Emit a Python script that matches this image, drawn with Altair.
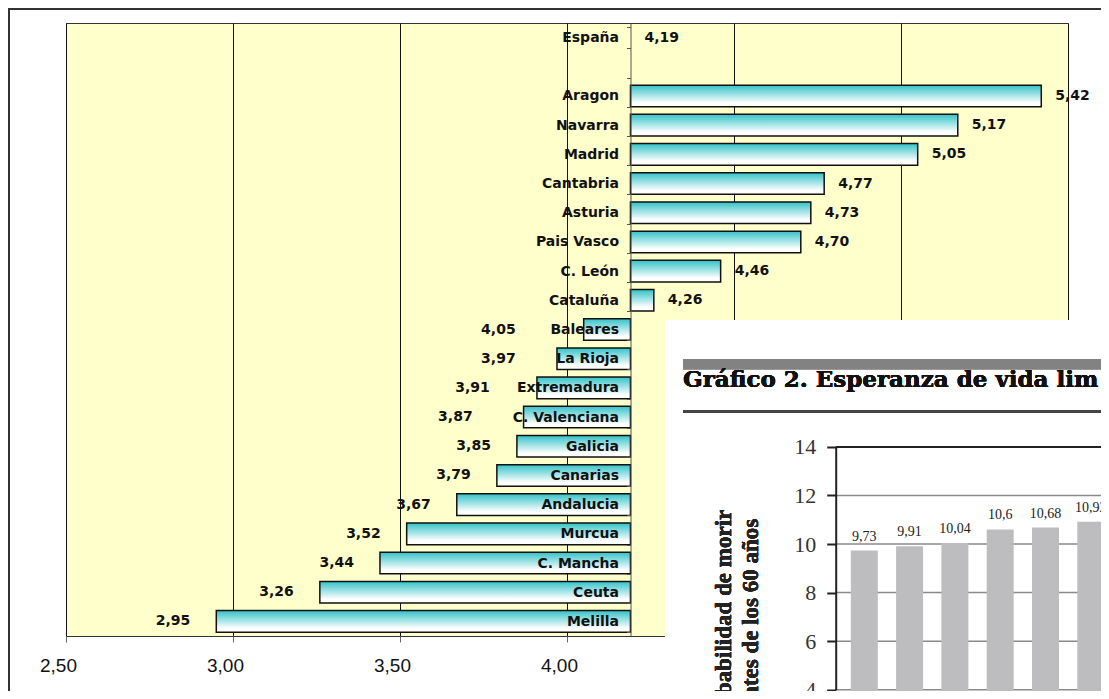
import altair as alt
import pandas as pd

# ---------------- data (main chart) ----------------
regions = ["España", "Aragon", "Navarra", "Madrid", "Cantabria", "Asturia",
           "Pais Vasco", "C. León", "Cataluña", "Baleares", "La Rioja",
           "Extremadura", "C. Valenciana", "Galicia", "Canarias", "Andalucia",
           "Murcua", "C. Mancha", "Ceuta", "Melilla"]
values = [4.19, 5.42, 5.17, 5.05, 4.77, 4.73, 4.70, 4.46, 4.26, 4.05, 3.97,
          3.91, 3.87, 3.85, 3.79, 3.67, 3.52, 3.44, 3.26, 2.95]
baseline = 4.19
gap_row = " "
row_order = [regions[0], gap_row] + regions[1:]
x_ticks = [2.5, 3.0, 3.5, 4.0, 4.5, 5.0, 5.5]

# ---------------- data (overlapping inset picture) ----------------
inset_values = [9.73, 9.91, 10.04, 10.6, 10.68, 10.92]
inset_index = [0, 1, 2, 3, 4, 5]
inset_y_ticks = [4, 6, 8, 10, 12, 14]
inset_title = "Gráfico 2. Esperanza de vida lim"
inset_ytitle = ["Probabilidad de morir", "antes de los 60 años"]

main_df = pd.DataFrame({"name": regions, "value": values})
main_df["base"] = baseline

inset_df = pd.DataFrame({"i": inset_index, "v": inset_values})
inset_df["zero"] = 0
grid_df = pd.DataFrame({"v": inset_y_ticks})

# ---------------- main chart ----------------
gradient = alt.Gradient(
    gradient="linear",
    stops=[alt.GradientStop(color="#33c2c8", offset=0),
           alt.GradientStop(color="#ffffff", offset=0.82)],
    x1=0, x2=0, y1=0, y2=1,
)

x_scale = alt.Scale(domain=[2.5, 5.5], nice=False, zero=False)
y_scale = alt.Scale(domain=row_order, paddingInner=0.26, paddingOuter=0.13)

x_axis = alt.Axis(values=x_ticks, title=None, grid=True, gridColor="#111",
                  gridWidth=1, domain=False, tickSize=6, tickColor="#666",
                  labelExpr="replace(format(datum.value, '.2f'), '.', ',')",
                  labelFont="Liberation Sans", labelFontSize=19,
                  labelColor="#111", labelPadding=14, labelOffset=-8,
                  labelFlush=False)
x_enc = alt.X("value:Q", scale=x_scale, axis=x_axis)
y_enc = alt.Y(
    "name:N", scale=y_scale,
    axis=alt.Axis(orient="left", offset=-564.5, title=None, grid=False,
                  domainColor="#555", domainWidth=1, tickBand="extent",
                  tickSize=4, tickColor="#555", labelFont="DejaVu Sans",
                  labelFontWeight="bold", labelFontSize=14, labelColor="#111",
                  labelPadding=8, zindex=1),
)

bars = alt.Chart(main_df).transform_filter(
    "datum.value != datum.base"
).mark_bar(fill=gradient, stroke="#111", strokeWidth=1.5).encode(
    x=x_enc, x2="base:Q", y=y_enc
)

label_expr = "replace(format(datum.value, '.2f'), '.', ',')"
label_style = dict(font="DejaVu Sans", fontWeight="bold", fontSize=14,
                   color="#111", baseline="middle")

pos_labels = alt.Chart(main_df).transform_filter(
    "datum.value >= datum.base"
).transform_calculate(
    lab=label_expr
).mark_text(align="left", dx=14, **label_style).encode(
    x=x_enc, y=y_enc, text="lab:N"
)

neg_labels = alt.Chart(main_df).transform_filter(
    "datum.value < datum.base"
).transform_calculate(
    lab=label_expr,
    anchor="min(datum.value, datum.base - (20 + 8.6 * length(datum.name)) / 334)",
).mark_text(align="right", dx=-26, **label_style).encode(
    x=alt.X("anchor:Q", scale=x_scale, axis=x_axis), y=y_enc, text="lab:N"
)

frame_top = alt.Chart(main_df).mark_rule(color="#333", strokeWidth=1.5).encode(
    x=alt.value(-57), x2=alt.value(1100), y=alt.value(-14.5)
)
frame_left = alt.Chart(main_df).mark_rule(color="#333", strokeWidth=1.5).encode(
    x=alt.value(-57), y=alt.value(-14.5), y2=alt.value(700)
)

main = alt.layer(bars, pos_labels, neg_labels, frame_top, frame_left)

# ---------------- inset (pasted picture of another chart) ----------------
ix_scale = alt.Scale(domain=[0, 5], range=[793.3, 1029.8], nice=False, zero=False)
iy_scale = alt.Scale(domain=[4, 14], range=[666.7, 423.9], nice=False, zero=False)
iy_axis = alt.Axis(orient="left", offset=-769.7, values=inset_y_ticks,
                   title=None, grid=False, domainColor="#222", domainWidth=2,
                   tickColor="#222", tickWidth=2, tickSize=9,
                   labelFont="Liberation Serif", labelFontSize=22,
                   labelColor="#333", labelPadding=11, zindex=2)
iy_enc = alt.Y("v:Q", scale=iy_scale, axis=iy_axis)
ix_enc = alt.X("i:Q", scale=ix_scale, axis=None)

panel = alt.Chart(inset_df).mark_rect(fill="white").encode(
    x=alt.value(599), x2=alt.value(1100), y=alt.value(297), y2=alt.value(700)
)
band = alt.Chart(inset_df).mark_rect(fill="#828282").encode(
    x=alt.value(617), x2=alt.value(1100), y=alt.value(336), y2=alt.value(346.3)
)
title = alt.Chart(inset_df).mark_text(
    text=inset_title, align="left", baseline="alphabetic", font="DejaVu Serif",
    fontWeight="bold", fontSize=23, color="#111"
).encode(x=alt.value(617), y=alt.value(363.7))
underline = alt.Chart(inset_df).mark_rule(color="#444", strokeWidth=2.5).encode(
    x=alt.value(617), x2=alt.value(1100), y=alt.value(388.5)
)
grid = alt.Chart(grid_df).transform_filter("datum.v < 14").mark_rule(
    color="#8a8a8a", strokeWidth=1.5
).encode(x=alt.value(769.7), x2=alt.value(1100), y=iy_enc)
top_line = alt.Chart(grid_df).transform_filter("datum.v == 14").mark_rule(
    color="#222", strokeWidth=2
).encode(x=alt.value(769.7), x2=alt.value(1100), y=iy_enc)
ibars = alt.Chart(inset_df).mark_bar(size=27, fill="#bdbdbf").encode(
    x=ix_enc, y=iy_enc, y2="zero:Q"
)
ilabels = alt.Chart(inset_df).transform_calculate(
    lab="replace('' + datum.v, '.', ',')"
).mark_text(baseline="alphabetic", dy=-10, font="Liberation Serif",
            fontSize=14, color="#222").encode(x=ix_enc, y=iy_enc, text="lab:N")
ytitle1 = alt.Chart(inset_df).mark_text(
    text=inset_ytitle[0], angle=270, align="right", baseline="middle",
    font="Liberation Serif", fontWeight="bold", fontSize=23, color="#222"
).encode(x=alt.value(658), y=alt.value(486.7))
ytitle2 = alt.Chart(inset_df).mark_text(
    text=inset_ytitle[1], angle=270, align="right", baseline="middle",
    font="Liberation Serif", fontWeight="bold", fontSize=23, color="#222"
).encode(x=alt.value(684.5), y=alt.value(495.7))

inset = alt.layer(panel, band, title, underline, grid, top_line, ibars,
                  ilabels, ytitle1, ytitle2)

chart = alt.layer(main, inset).resolve_scale(
    x="independent", y="independent"
).properties(
    width=1002, height=613, background="white",
    autosize=alt.AutoSizeParams(type="none"),
    padding={"left": 58, "top": 15, "right": 33, "bottom": 55},
).configure_view(
    fill="#FFFFCC", stroke="#333", strokeWidth=1
)

chart.save("out.html", embed_options={"renderer": "svg", "actions": False})
